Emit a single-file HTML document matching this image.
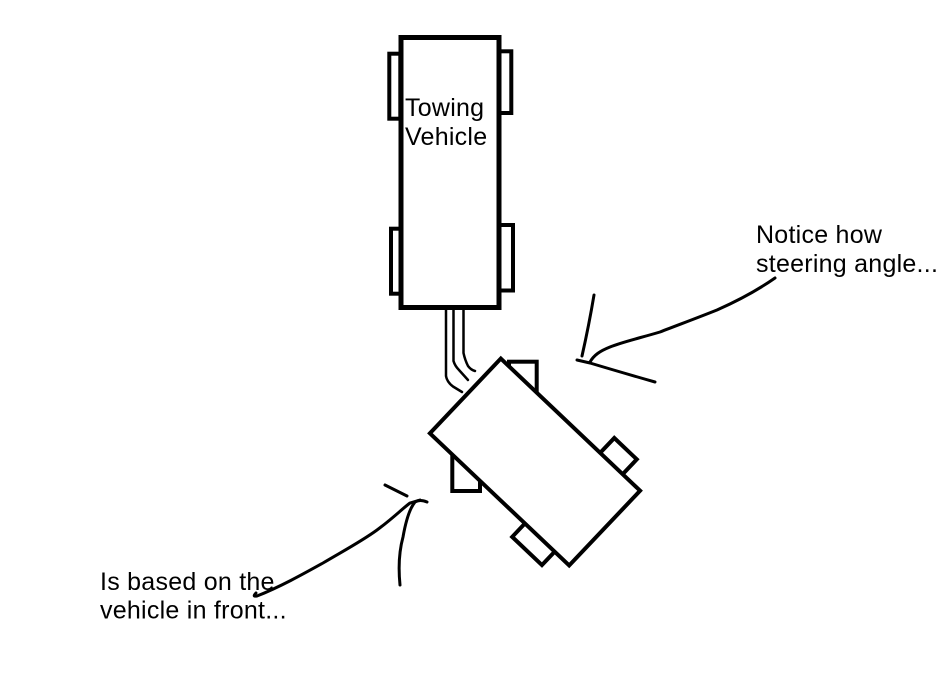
<!DOCTYPE html>
<html>
<head>
<meta charset="utf-8">
<style>
html,body{margin:0;padding:0;background:#fff;}
svg{display:block;}
text{font-family:"Liberation Sans",Arial,sans-serif;font-size:25px;fill:#000;letter-spacing:0.25px;}
</style>
</head>
<body>
<svg width="943" height="695" viewBox="0 0 943 695" xmlns="http://www.w3.org/2000/svg">
<rect x="0" y="0" width="943" height="695" fill="#fff"/>

<!-- Towing vehicle wheels -->
<g fill="#fff" stroke="#000" stroke-width="4">
  <rect x="389.3" y="53.7" width="11" height="65"/>
  <rect x="499" y="51.3" width="12.3" height="61.7"/>
  <rect x="391" y="228.7" width="10" height="65"/>
  <rect x="499" y="225" width="14" height="65.5"/>
</g>
<!-- Towing vehicle body -->
<rect x="401" y="37.5" width="98" height="270" fill="#fff" stroke="#000" stroke-width="5"/>
<text x="405" y="116">Towing</text>
<text x="405" y="145">Vehicle</text>

<!-- Hitch lines -->
<g fill="none" stroke="#000" stroke-width="2.5" stroke-linecap="round" stroke-linejoin="round">
  <path d="M446,310 L446,376 Q447,382 453,386.5 L462,392"/>
  <path d="M453.5,310 L453.5,361 Q455,366 459,370 L468,380"/>
  <path d="M463.5,310 L463.5,353 Q465,360 468,366 Q471,370 475,371"/>
</g>

<!-- Trailer axis-aligned wheels (partially hidden) -->
<g fill="#fff" stroke="#000" stroke-width="4">
  <rect x="509" y="361.7" width="27.7" height="45"/>
  <rect x="452.3" y="440" width="27.7" height="51"/>
</g>

<!-- Trailer rotated -->
<g transform="translate(535,462) rotate(43.5)">
  <g fill="#fff" stroke="#000" stroke-width="4">
    <rect x="41" y="-72" width="31" height="21"/>
    <rect x="35" y="51" width="41" height="19"/>
  </g>
  <rect x="-96" y="-51.5" width="192" height="103" fill="#fff" stroke="#000" stroke-width="4"/>
</g>

<!-- Arrow 1 -->
<g fill="none" stroke="#000" stroke-width="3" stroke-linecap="round" stroke-linejoin="round">
  <path d="M775,278 C755,292 735,302 717,310 C697,318 678,325 660,332 C640,338 622,342 610,347 C600,351 594,355 590,362"/>
  <path d="M582,356 Q589,325 594,295"/>
  <path d="M577,360 L590,363 Q620,372 655,382"/>
</g>

<!-- Arrow 2 -->
<g fill="none" stroke="#000" stroke-width="3" stroke-linecap="round" stroke-linejoin="round">
  <path d="M256,593 Q252,597 257,596 C280,587 305,573 323,563 C345,550 362,541 377,530 C392,519 402,509 410,503 L420,500"/>
  <path d="M400,585 C398,565 400,548 403,537 C406,520 410,508 415,502 Q420,499 427,502"/>
  <path d="M385,485 L407,496"/>
</g>

<text x="756" y="243">Notice how</text>
<text x="756" y="272">steering angle...</text>
<text x="100" y="590">Is based on the</text>
<text x="100" y="618.5">vehicle in front...</text>
</svg>
</body>
</html>
